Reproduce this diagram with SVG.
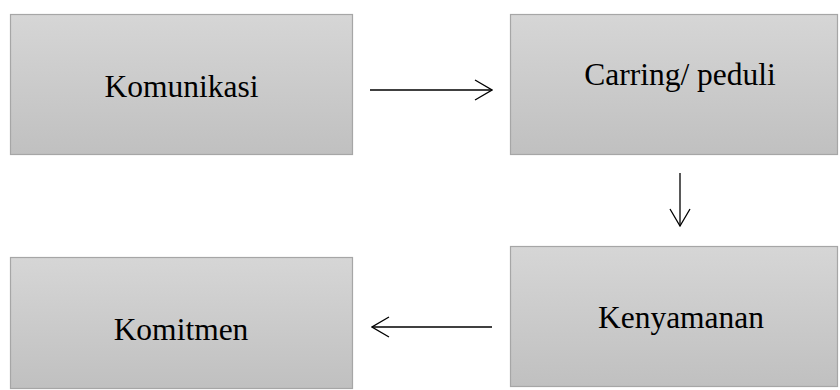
<svg xmlns="http://www.w3.org/2000/svg" width="840" height="390" viewBox="0 0 840 390">
<defs>
<linearGradient id="g" x1="0" y1="0" x2="0" y2="1">
<stop offset="0" stop-color="#d6d6d6"/>
<stop offset="1" stop-color="#c0c0c0"/>
</linearGradient>
<marker id="ah" viewBox="0 0 20 24" refX="19" refY="12" markerWidth="20" markerHeight="24" markerUnits="userSpaceOnUse" orient="auto">
<path d="M2,2 L19,12 L2,22" fill="none" stroke="#000" stroke-width="1.3"/>
</marker>
<style>
.box{fill:url(#g);stroke:#a6a6a6;stroke-width:1.2}
.lbl{font-family:"Liberation Serif","Times New Roman",serif;font-size:31.5px;fill:#000;text-anchor:middle}
.con{stroke:#000;stroke-width:1.3;fill:none;marker-end:url(#ah)}
</style>
</defs>
<rect width="840" height="390" fill="#fff"/>
<g id="komunikasi"><rect class="box" x="10.5" y="14.5" width="342" height="140"/><text class="lbl" x="181.5" y="97">Komunikasi</text></g>
<g id="carring"><rect class="box" x="510.5" y="14.5" width="327" height="140"/><text class="lbl" x="680" y="85">Carring/ peduli</text></g>
<g id="kenyamanan"><rect class="box" x="510.5" y="246.5" width="327" height="140"/><text class="lbl" x="681" y="328">Kenyamanan</text></g>
<g id="komitmen"><rect class="box" x="10.5" y="257.5" width="342" height="131"/><text class="lbl" x="181" y="340">Komitmen</text></g>
<g id="connectors">
<line class="con" x1="370" y1="90" x2="492" y2="90"/>
<line class="con" x1="680" y1="173" x2="680" y2="226"/>
<line class="con" x1="492" y1="327" x2="372" y2="327"/>
</g>
</svg>
